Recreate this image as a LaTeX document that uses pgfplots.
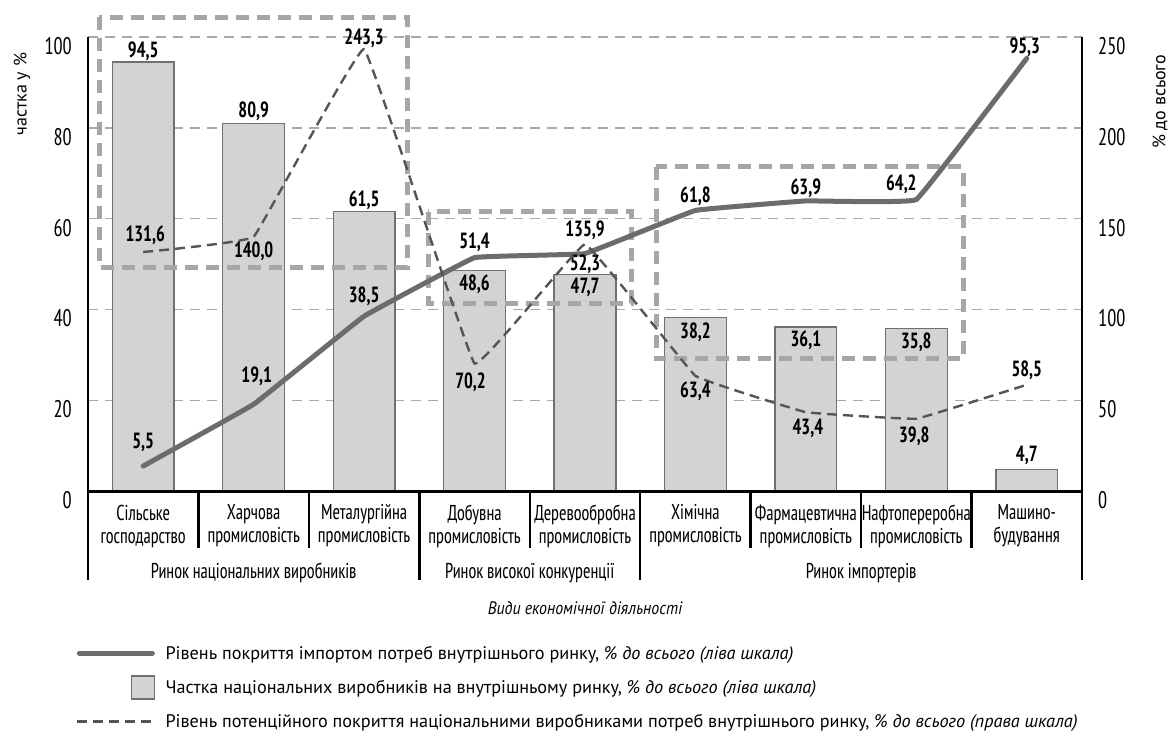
\documentclass[border=0pt]{standalone}
\usepackage{pgfplots}
\pgfplotsset{compat=1.18}
\usepackage{pgfplotstable}
\usepackage{fontspec}
\setmainfont{PT Sans Narrow}[FakeStretch=0.84]
\newfontfamily\legfont{PT Sans}
\newfontfamily\xlfont{PT Sans}[FakeStretch=0.88]

\definecolor{barfill}{RGB}{211,211,211}
\definecolor{bardraw}{RGB}{112,112,112}
\definecolor{impline}{RGB}{108,108,108}
\definecolor{potline}{RGB}{85,85,85}
\definecolor{gridc}{RGB}{168,168,168}
\definecolor{boxc}{RGB}{166,166,166}

% share = bars (left), imp = solid line (left), pot = dashed line (right)
% *dx/*dy = label offsets from the point, in px
\pgfplotstableread{
x  share bdx bdy  imp  idx  idy  pot    pdx  pdy
0  94.5  0   11   5.5   0   24   131.6   2   17
1  80.9  0   12   19.1  3   28   140.0   0  -14
2  61.5  0   12   38.5  0   20   243.3   0   11
3  48.6  0  -14   51.4  0   15   70.2   -4  -19
4  47.7  0  -13   52.3  0  -11   135.9   0   14
5  38.2  0  -15   61.8  0   14   63.4    0  -15
6  36.1  0  -13   63.9  0   13   43.4    2  -16
7  35.8  0  -14   64.2 -15  15   39.8   -2  -18
8  4.7   0   14   95.3 -2   11   58.5    0   15
}\data

\begin{document}
\begin{tikzpicture}
\pgfplotsset{
  common/.style={scale only axis, width=994pt, height=454pt,
    xmin=-0.5, xmax=8.5, clip=false,
    axis line style={draw=none}, major tick length=0pt,
    /pgf/number format/assume math mode=true,
    yticklabel style={font=\fontsize{24}{26}\selectfont}},
  vallabel/.style={only marks, mark=*, mark size=0pt, mark options={draw=none, fill=none},
    nodes near coords={\pgfmathprintnumber[fixed, fixed zerofill, precision=1, use comma]{\pgfplotspointmeta}},
    every node near coord/.append style={font=\bfseries\fontsize{22}{24}\selectfont,
      anchor=center, inner sep=0pt, xshift={\dx pt}, yshift={\dy pt}}},
}
\begin{axis}[common, name=main,
  ymin=0, ymax=100, ytick={0,20,...,100},
  axis x line*=bottom, axis y line*=left,
  ymajorgrids, grid style={gridc, line width=1.4pt, dash pattern=on 10pt off 7pt},
  xtick={0,...,8},
  xticklabels={{Сільське\\господарство}, {Харчова\\промисловість}, {Металургійна\\промисловість},
    {Добувна\\промисловість}, {Деревообробна\\промисловість}, {Хімічна\\промисловість},
    {Фармацевтична\\промисловість}, {Нафтопереробна\\промисловість}, {Машино-\\будування}},
  xticklabel style={align=center, anchor=center, yshift=-35pt, font=\fontsize{21.5}{23}\selectfont},
  yticklabel style={anchor=east, inner sep=0pt, xshift=-16pt, yshift=-9pt},
  xlabel={\xlfont\itshape Види економічної діяльності},
  every axis x label/.style={at={(axis description cs:0.5,-0.2577)}, anchor=center,
    font=\fontsize{18}{20}\selectfont},
  ylabel={частка у \%},
  every axis y label/.style={at={(axis description cs:-0.0664,0.8744)}, rotate=90,
    anchor=center, font=\legfont\fontsize{18}{20}\selectfont},
]
\addplot[ybar, bar width=0.56, fill=barfill, draw=bardraw, line width=1.3pt]
  table[x=x, y=share] {\data};

% highlighted market groups
\draw[boxc, line width=5pt, dash pattern=on 13pt off 8pt]
  (axis cs:-0.40,104.4) rectangle (axis cs:2.389,49.3);
\draw[boxc, line width=5pt, dash pattern=on 13pt off 8pt]
  (axis cs:2.579,61.5) rectangle (axis cs:4.417,41.4);
\draw[boxc, line width=5pt, dash pattern=on 13pt off 8pt]
  (axis cs:4.643,71.4) rectangle (axis cs:7.423,29.1);

\addplot[impline, line width=5pt, smooth, tension=0.1, line join=round, line cap=round]
  table[x=x, y=imp] {\data};

% axis frame and category separators
\draw[black, line width=3pt] (axis cs:-0.5,0) -- (axis cs:8.5,0);
\draw[black, line width=2.8pt] (axis cs:-0.5,100) -- (axis cs:-0.5,0) -- ++(0pt,-89pt);
\draw[black, line width=2.8pt] (axis cs:8.5,100) -- (axis cs:8.5,0) -- ++(0pt,-89pt);
\pgfplotsinvokeforeach{0.5,1.5,3.5,5.5,6.5,7.5}{
  \draw[black, line width=2.5pt] (axis cs:#1,0) -- ++(0pt,-57pt);
}
\pgfplotsinvokeforeach{2.5,4.5}{
  \draw[black, line width=2.5pt] (axis cs:#1,0) -- ++(0pt,-89pt);
}
\node[font=\fontsize{21.5}{23}\selectfont] at ([yshift=-82pt]axis cs:1,0) {Ринок національних виробників};
\node[font=\fontsize{21.5}{23}\selectfont] at ([yshift=-82pt]axis cs:3.5,0) {Ринок високої конкуренції};
\node[font=\fontsize{21.5}{23}\selectfont] at ([yshift=-82pt]axis cs:6.5,0) {Ринок імпортерів};

\addplot[vallabel, visualization depends on={\thisrow{bdx} \as \dx},
  visualization depends on={\thisrow{bdy} \as \dy}] table[x=x, y=share] {\data};
\addplot[vallabel, visualization depends on={\thisrow{idx} \as \dx},
  visualization depends on={\thisrow{idy} \as \dy}] table[x=x, y=imp] {\data};
\end{axis}

\begin{axis}[common,
  ymin=0, ymax=250, ytick={0,50,...,250},
  axis y line*=right, axis x line=none,
  yticklabel style={anchor=west, inner sep=0pt, xshift=16pt, yshift=-9pt},
  ylabel={\% до всього},
  every axis y label/.style={at={(axis description cs:1.0785,0.857)}, rotate=90,
    anchor=center, font=\legfont\fontsize{18}{20}\selectfont},
  legend cell align=left,
  legend style={draw=none, fill=none, at={(axis description cs:-0.0121,-0.3304)},
    anchor=north west, inner sep=0pt, row sep=10pt, column sep=10pt,
    nodes={inner sep=0pt, font=\legfont\fontsize{18.2}{20}\selectfont}},
]
\addplot[potline, line width=2.4pt, dash pattern=on 10pt off 6pt, smooth, tension=0.1, forget plot]
  table[x=x, y=pot] {\data};
\addplot[vallabel, forget plot, visualization depends on={\thisrow{pdx} \as \dx},
  visualization depends on={\thisrow{pdy} \as \dy}] table[x=x, y=pot] {\data};

\addlegendimage{legend image code/.code={
  \path[draw=none, fill=none] (0pt,-12pt) rectangle (77pt,12pt);
  \draw[impline, line width=5pt, line cap=round] (2pt,0pt) -- (75pt,0pt);}}
\addlegendentry{Рівень покриття імпортом потреб внутрішнього ринку, {\itshape\% до всього (ліва шкала)}}
\addlegendimage{legend image code/.code={
  \path[draw=none, fill=none] (0pt,-12pt) rectangle (77pt,12pt);
  \draw[fill=barfill, draw=bardraw, line width=1.3pt] (54pt,-11.5pt) rectangle (77pt,11.5pt);}}
\addlegendentry{Частка національних виробників на внутрішньому ринку, {\itshape\% до всього (ліва шкала)}}
\addlegendimage{legend image code/.code={
  \path[draw=none, fill=none] (0pt,-12pt) rectangle (77pt,12pt);
  \draw[potline, line width=2.4pt, dash pattern=on 10pt off 6pt] (0pt,0pt) -- (77pt,0pt);}}
\addlegendentry{Рівень потенційного покриття національними виробниками потреб внутрішнього ринку, {\itshape\% до всього (права шкала)}}
\end{axis}

\pgfresetboundingbox
\path (main.south west) ++(-88pt,491pt) rectangle ++(1175pt,-737pt);
\end{tikzpicture}
\end{document}
